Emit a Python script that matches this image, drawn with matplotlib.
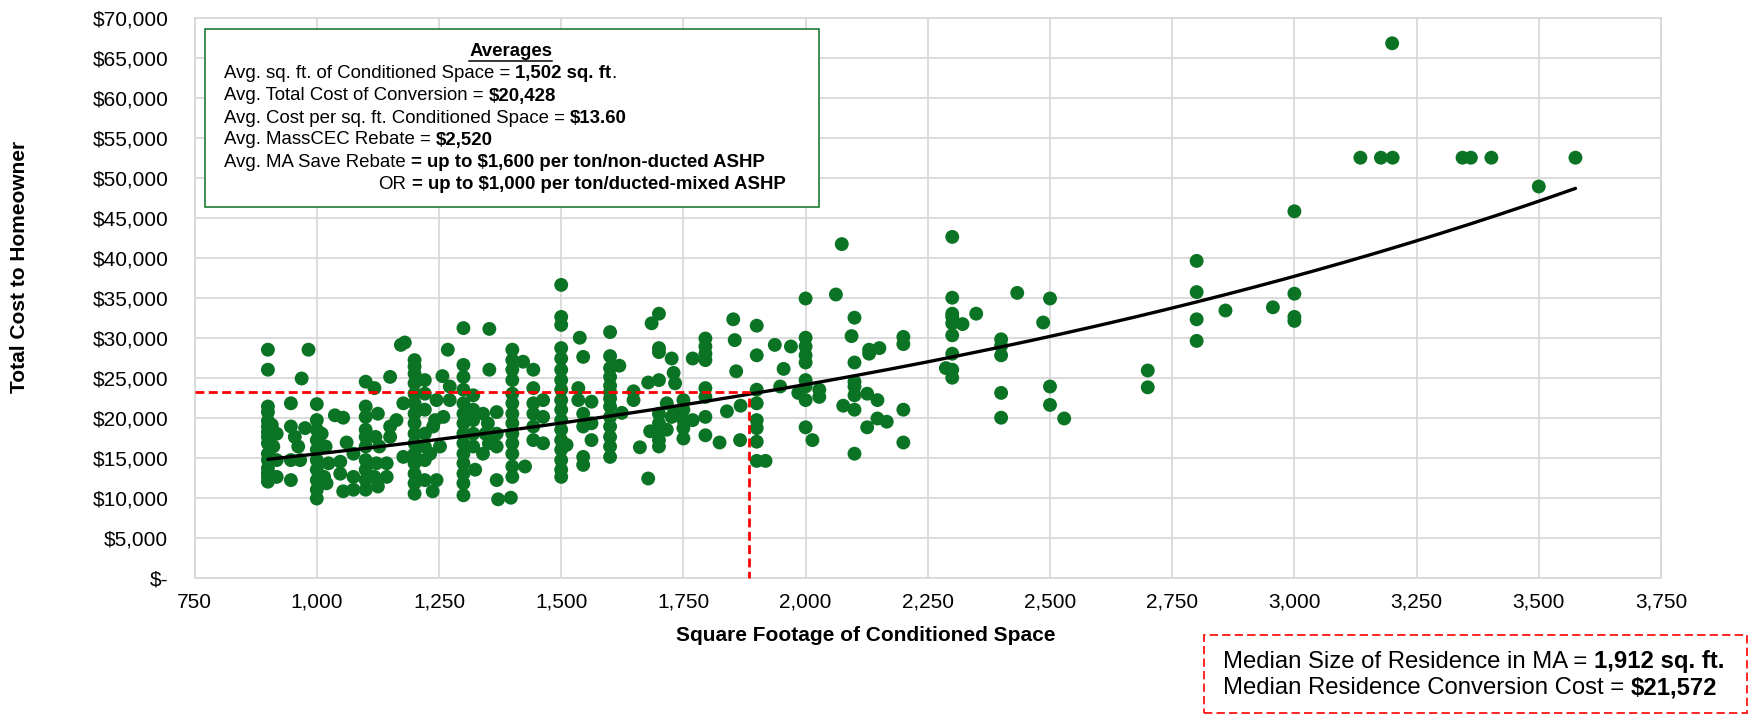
import matplotlib
matplotlib.use("Agg")
import matplotlib.pyplot as plt
import numpy as np
from matplotlib.patches import Rectangle
from matplotlib.lines import Line2D

# ---------------- data ----------------
# 900 - 1,250 sq. ft.
sqft_a = [900, 900, 900, 900, 900, 900, 900, 900, 900, 900, 900, 900, 900, 900, 900,
          908, 918, 911, 918, 918, 947, 947, 955, 947, 947, 969, 983, 976, 962, 966,
          1000, 1000, 1000, 1000, 1000, 1000, 1000, 1000, 1000, 1000,
          1010, 1018, 1024, 1015, 1020, 1037, 1054, 1061, 1048, 1048, 1075, 1075, 1054, 1075,
          1100, 1100, 1100, 1100, 1100, 1100, 1100, 1100, 1100, 1100,
          1118, 1125, 1120, 1128, 1122, 1118, 1125,
          1150, 1150, 1150, 1143, 1143, 1163, 1172, 1180, 1177, 1177,
          1200, 1200, 1200, 1200, 1200, 1200, 1200, 1200, 1200, 1200, 1200, 1200, 1200, 1200, 1200,
          1221, 1221, 1221, 1221, 1221, 1221, 1221,
          1245, 1242, 1259, 1238, 1252, 1232, 1245, 1237]
cost_a = [28500, 26000, 21400, 20700, 19600, 18900, 18200, 17600, 16800, 15500, 14700, 13700, 13100, 12600, 12000,
          19100, 18000, 16400, 14700, 12600, 21800, 18900, 17600, 14700, 12200, 24900, 28500, 18700, 16400, 14700,
          21700, 19700, 18500, 17200, 16000, 14700, 13500, 12200, 11000, 9900,
          18000, 16400, 14300, 12600, 11800, 20300, 20000, 16900, 14500, 13000, 15500, 12600, 10800, 11000,
          24500, 21400, 20100, 18500, 17600, 16400, 14700, 13500, 12200, 11000,
          23700, 20500, 17600, 16400, 14300, 12600, 11400,
          25100, 18900, 17600, 14300, 12600, 19700, 29100, 29400, 21800, 15100,
          27200, 26400, 25500, 24300, 23000, 21800, 20500, 19300, 18000, 16800, 15500, 14300, 13000, 11800, 10500,
          24700, 23000, 21000, 18000, 16400, 14700, 12200,
          22200, 19700, 20100, 18900, 16400, 15500, 12200, 10800]

# 1,250 - 1,600 sq. ft.
sqft_b = [1257, 1268, 1272, 1272,
          1300, 1300, 1300, 1300, 1300, 1300, 1300, 1300, 1300, 1300, 1300, 1300, 1300, 1300,
          1320, 1320, 1320, 1320, 1320, 1324,
          1353, 1353, 1340, 1350, 1345, 1352, 1340,
          1368, 1368, 1368, 1368, 1371, 1397,
          1400, 1400, 1400, 1400, 1400, 1400, 1400, 1400, 1400, 1400, 1400, 1400, 1400,
          1422, 1443, 1443, 1443, 1443, 1443, 1443, 1426, 1463, 1463, 1463,
          1500, 1500, 1500, 1500, 1500, 1500, 1500, 1500, 1500, 1500, 1500, 1500, 1500, 1500, 1500, 1500, 1500,
          1511, 1535, 1535, 1538, 1545, 1545, 1545, 1545, 1545, 1562, 1562, 1562]
cost_b = [25200, 28500, 23900, 22200,
          31200, 26600, 25100, 23500, 21800, 20500, 19300, 18000, 16800, 15500, 14300, 13000, 11800, 10300,
          22800, 21000, 19700, 18000, 16400, 13500,
          31100, 26000, 20500, 19300, 18000, 16800, 15500,
          20700, 18000, 16400, 12200, 9800, 10000,
          28500, 27200, 26000, 24700, 23000, 21800, 20500, 19300, 18000, 16800, 15500, 13900, 12600,
          27000, 26000, 23700, 21800, 20500, 18900, 17200, 13900, 22200, 20100, 16800,
          36600, 32600, 31600, 28700, 27400, 26000, 24700, 23500, 22200, 21000, 19700, 18500, 17200, 16000, 14700, 13500, 12600,
          16600, 23700, 22200, 30000, 27600, 20500, 18900, 15100, 14100, 22000, 19300, 17200]

# 1,600 - 2,000 sq. ft.
sqft_c = [1600, 1600, 1600, 1600, 1600, 1600, 1600, 1600, 1600, 1600, 1600, 1600, 1600,
          1619, 1624, 1648, 1648, 1661, 1678, 1678, 1685,
          1700, 1700, 1700, 1700, 1700, 1700, 1700, 1700, 1700,
          1682, 1716, 1716, 1726, 1730, 1733, 1730, 1726,
          1750, 1750, 1750, 1750, 1750, 1769, 1769,
          1795, 1795, 1795, 1795, 1795, 1795, 1795, 1795,
          1824, 1839, 1852, 1855, 1858, 1867, 1866,
          1900, 1900, 1900, 1900, 1900, 1900, 1900, 1900, 1918,
          1937, 1970, 1955, 1948, 1985]
cost_c = [30700, 27700, 26200, 25100, 24000, 23200, 22400, 21400, 20100, 18900, 17600, 16400, 15100,
          26500, 20600, 23300, 22200, 16300, 12400, 24400, 31800,
          33000, 28700, 28200, 24700, 20500, 19300, 18300, 17200, 16400,
          18300, 21800, 18500, 27400, 25600, 24300, 20500, 20100,
          22200, 21000, 19700, 18700, 17400, 27400, 19700,
          29900, 28900, 28000, 27200, 23700, 22600, 20100, 17800,
          16900, 20800, 32300, 29700, 25800, 21500, 17200,
          31500, 27800, 23500, 21800, 19700, 18700, 17000, 14600, 14600,
          29100, 28900, 26100, 23900, 23100]

# 2,000 - 2,350 sq. ft.
sqft_d = [2000, 2000, 2000, 2000, 2000, 2000, 2000, 2000, 2000,
          2014, 2028, 2028, 2062, 2074, 2077, 2094,
          2100, 2100, 2100, 2100, 2100, 2100, 2100,
          2126, 2126, 2130, 2130, 2147, 2147, 2151, 2166,
          2200, 2200, 2200, 2200,
          2300, 2300, 2300, 2300, 2300, 2300, 2300, 2300, 2300, 2321, 2287]
cost_d = [34900, 30000, 28900, 27800, 26900, 24700, 23900, 22200, 18800,
          17200, 23500, 22600, 35400, 41700, 21500, 30200,
          32500, 26900, 24500, 23900, 22800, 21000, 15500,
          23000, 18800, 28500, 28000, 22200, 19900, 28700, 19500,
          30100, 29200, 21000, 16900,
          42600, 35000, 33000, 32600, 31800, 30300, 28000, 26000, 25000, 31700, 26200]

# 2,350 sq. ft. and above
sqft_e = [2349, 2433, 2400, 2400, 2400, 2400, 2400,
          2500, 2486, 2500, 2500, 2529, 2700, 2700,
          2800, 2800, 2800, 2800, 2859, 2956,
          3000, 3000, 3000, 3000,
          3135, 3177, 3201, 3344, 3361, 3403, 3575, 3200, 3500]
cost_e = [33000, 35600, 29800, 29000, 27800, 23100, 20000,
          34900, 31900, 23900, 21600, 19900, 25900, 23800,
          39600, 35700, 32300, 29600, 33400, 33800,
          45800, 35500, 32600, 32100,
          52500, 52500, 52500, 52500, 52500, 52500, 52500, 66800, 48900]

# exponential trendline: cost = a * exp(b * sqft)
trend_a = 9915
trend_b = 0.000445

# red dashed median guide
median_line_x = 1885
median_line_y = 23200

x_ticks = [750, 1000, 1250, 1500, 1750, 2000, 2250, 2500, 2750, 3000, 3250, 3500, 3750]
y_ticks = list(range(0, 70001, 5000))

avg_title = "Averages"
avg_lines = [
    [("Avg. sq. ft. of Conditioned Space = ", False), ("1,502 sq. ft", True), (".", False)],
    [("Avg. Total Cost of Conversion = ", False), ("\\$20,428", True)],
    [("Avg. Cost per sq. ft. Conditioned Space = ", False), ("\\$13.60", True)],
    [("Avg. MassCEC Rebate = ", False), ("\\$2,520", True)],
    [("Avg. MA Save Rebate ", False), ("= up to \\$1,600 per ton/non-ducted ASHP", True)],
    [("OR ", False), ("= up to \\$1,000 per ton/ducted-mixed ASHP", True)],
]
median_lines = [
    [("Median Size of Residence in MA = ", False), ("1,912 sq. ft.", True)],
    [("Median Residence Conversion Cost = ", False), ("\\$21,572", True)],
]

# ---------------- styling ----------------
W, H = 1754, 716
FONT = "Liberation Sans"
plt.rcParams["font.family"] = [FONT, "DejaVu Sans"]
GREEN = "#0B7324"
GRID = "#d9d9d9"

fig = plt.figure(figsize=(W / 100, H / 100), dpi=100)
fig.patch.set_facecolor("white")
L, R, T, B = 194.6, 1661.0, 17.7, 577.7
ax = fig.add_axes([L / W, 1 - B / H, (R - L) / W, (B - T) / H])

sqft = np.array(sqft_a + sqft_b + sqft_c + sqft_d + sqft_e, dtype=float)
cost = np.array(cost_a + cost_b + cost_c + cost_d + cost_e, dtype=float)

ax.scatter(sqft, cost, s=100, color=GREEN, edgecolors="none", zorder=3)
xs = np.linspace(sqft.min(), sqft.max(), 300)
ax.plot(xs, trend_a * np.exp(trend_b * xs), color="black", lw=2.4, zorder=4,
        solid_capstyle="round")
ax.plot([750, median_line_x, median_line_x], [median_line_y, median_line_y, 0],
        color="#ff0000", lw=2.0, dashes=(3.2, 1.6), zorder=5, clip_on=False)

ax.set_xlim(750, 3750)
ax.set_ylim(0, 70000)
ax.set_xticks(x_ticks)
ax.set_yticks(y_ticks)
ax.set_xticklabels([f"{v:,}" for v in x_ticks])
ax.set_yticklabels(["\\$-" if v == 0 else f"\\${v:,}" for v in y_ticks])
ax.grid(True, color=GRID, lw=1.3)
ax.set_axisbelow(True)
for s in ax.spines.values():
    s.set_color(GRID)
    s.set_linewidth(1.3)
ax.tick_params(axis="both", length=0, labelsize=15, colors="black")
ax.tick_params(axis="y", pad=19)
ax.tick_params(axis="x", pad=11)

fig.text(20 / W, 1 - 267 / H, "Total Cost to Homeowner", rotation=90, fontsize=15,
         fontweight="bold", ha="center", va="center")
fig.text(866 / W, 1 - 635.5 / H, "Square Footage of Conditioned Space", fontsize=15,
         fontweight="bold", ha="center", va="center")

renderer = fig.canvas.get_renderer()


def measure(s, size, weight):
    t = fig.text(0, 0, s, fontsize=size, fontweight=weight)
    w = t.get_window_extent(renderer).width
    t.remove()
    return w


def rich(x_px, y_px, parts, size):
    x = x_px
    for txt, bold in parts:
        weight = "bold" if bold else "normal"
        sp = measure("a a", size, weight) - measure("aa", size, weight)
        core = txt.strip(" ")
        lead = len(txt) - len(txt.lstrip(" "))
        trail = len(txt) - len(txt.rstrip(" "))
        x += lead * sp
        if core:
            t = fig.text(x / W, 1 - y_px / H, core, fontsize=size, fontweight=weight,
                         ha="left", va="center", zorder=6)
            x += t.get_window_extent(renderer).width
        x += trail * sp


# Averages box
fig.add_artist(Rectangle((204.5 / W, 1 - 206.5 / H), (818.8 - 204.5) / W, (206.5 - 29) / H,
                         transform=fig.transFigure, facecolor="white",
                         edgecolor="#1f7a35", lw=1.2, zorder=2))
AV = 13.4
tt = fig.text(510.7 / W, 1 - 51.7 / H, avg_title, fontsize=AV, fontweight="bold",
              ha="center", va="center", zorder=6)
bb = tt.get_window_extent(renderer)
fig.add_artist(Line2D([bb.x0 / W, bb.x1 / W], [1 - 61 / H, 1 - 61 / H], color="black",
                      lw=1.1, transform=fig.transFigure, zorder=6))
avg_y = [73.3, 96.0, 118.3, 140.0, 162.7, 184.3]
avg_x = [223.7, 223.7, 223.7, 223.7, 223.7, 378.6]
for parts, xx, yy in zip(avg_lines, avg_x, avg_y):
    rich(xx, yy, parts, AV)

# Median box
fig.add_artist(Rectangle((1203.8 / W, 1 - 712.7 / H), (1747 - 1203.8) / W, (712.7 - 635) / H,
                         transform=fig.transFigure, facecolor="white",
                         edgecolor="#ff0000", lw=1.2, linestyle=(0, (5, 2.5)), zorder=2))
for parts, yy in zip(median_lines, [661.7, 688.3]):
    rich(1223.2, yy, parts, 17.2)

fig.savefig("out.png", dpi=100, facecolor="white")
